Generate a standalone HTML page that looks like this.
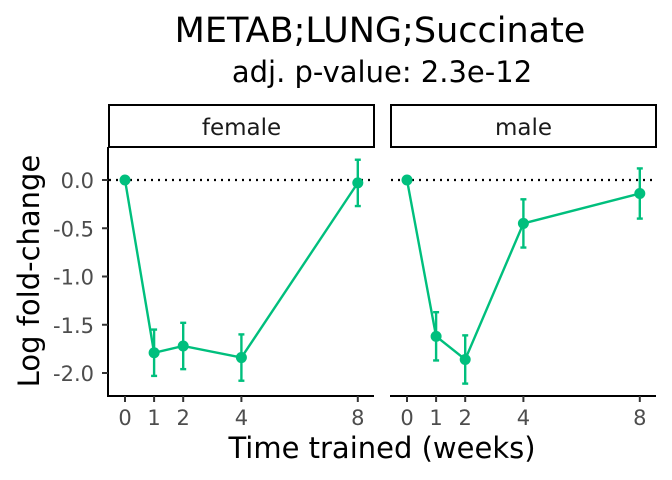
<!DOCTYPE html>
<html><head><meta charset="utf-8"><style>
body{margin:0;background:#fff;}
svg{display:block;font-family:"DejaVu Sans","Liberation Sans",sans-serif;}
</style></head><body>
<svg id="chart" width="672" height="480">
<text x="380" y="42" font-size="35" text-anchor="middle" fill="#000">METAB;LUNG;Succinate</text>
<text x="382" y="82" font-size="29" text-anchor="middle" fill="#000">adj. p-value: 2.3e-12</text>
<text transform="translate(39,271) rotate(-90)" font-size="29" text-anchor="middle">Log fold-change</text>
<text x="382" y="458" font-size="29" text-anchor="middle">Time trained (weeks)</text>
<g id="plot"></g>
</svg>
<script>
const weeks=[0,1,2,4,8];
const femaleMean=[0,-1.79,-1.72,-1.84,-0.03];
const femaleErr=[0,0.24,0.24,0.24,0.24];
const maleMean=[0,-1.62,-1.86,-0.45,-0.14];
const maleErr=[0,0.25,0.25,0.25,0.26];
const yTicks=[0,-0.5,-1,-1.5,-2];
const yTickLabels=["0.0","-0.5","-1.0","-1.5","-2.0"];
const panels=[{name:"female",left:109,right:374,mean:femaleMean,err:femaleErr},{name:"male",left:391,right:656,mean:maleMean,err:maleErr}];
const NS="http://www.w3.org/2000/svg";
const g=document.getElementById('plot');
const yS=v=>180-v*96.5;
function mk(t,a,p){const e=document.createElementNS(NS,t);for(const k in a)e.setAttribute(k,a[k]);(p||g).appendChild(e);return e;}
const col="#00BF7D";
panels.forEach((p,pi)=>{
  const xS=w=>p.left+16+w*29.1;
  const s=mk('rect',{x:p.left,y:105,width:p.right-p.left,height:42,fill:"#fff",stroke:"#000","stroke-width":2});
  
  const st=mk('text',{x:(p.left+p.right)/2,y:135,"font-size":23,"text-anchor":"middle",fill:"#1a1a1a"});st.textContent=p.name;
  
  const ref=mk('line',{x1:p.left,x2:p.right,y1:yS(0),y2:yS(0),stroke:"#000","stroke-width":2.2,"stroke-dasharray":"2,5"});
  
  const xa=mk('line',{x1:p.left-1,x2:p.right,y1:396,y2:396,stroke:"#000","stroke-width":2});
  
  weeks.forEach(w=>{mk('line',{x1:xS(w),x2:xS(w),y1:396,y2:402,stroke:"#333","stroke-width":2});
    const t=mk('text',{x:xS(w),y:425,"font-size":21,"text-anchor":"middle",fill:"#4d4d4d"});t.textContent=w;
    });
  if(pi==0){
    const ya=mk('line',{x1:p.left-1,x2:p.left-1,y1:147,y2:397,stroke:"#000","stroke-width":2});
    
    yTicks.forEach((v,i)=>{mk('line',{x1:p.left-7,x2:p.left-1,y1:yS(v),y2:yS(v),stroke:"#333","stroke-width":2});
      const t=mk('text',{x:p.left-15,y:yS(v)+8,"font-size":21,"text-anchor":"end",fill:"#4d4d4d"});t.textContent=yTickLabels[i];
      });
  }
  const ln=mk('polyline',{points:weeks.map((w,i)=>xS(w)+","+yS(p.mean[i])).join(" "),fill:"none",stroke:col,"stroke-width":2.4});
  
  weeks.forEach((w,i)=>{
    const m=p.mean[i],e=p.err[i],x=xS(w);
    if(e>0){mk('line',{x1:x,x2:x,y1:yS(m-e),y2:yS(m+e),stroke:col,"stroke-width":2.4});
      mk('line',{x1:x-3,x2:x+3,y1:yS(m-e),y2:yS(m-e),stroke:col,"stroke-width":2.4});
      mk('line',{x1:x-3,x2:x+3,y1:yS(m+e),y2:yS(m+e),stroke:col,"stroke-width":2.4});}
    const c=mk('circle',{cx:x,cy:yS(m),r:5.5,fill:col});
    
  });
});
</script>
</body></html>
